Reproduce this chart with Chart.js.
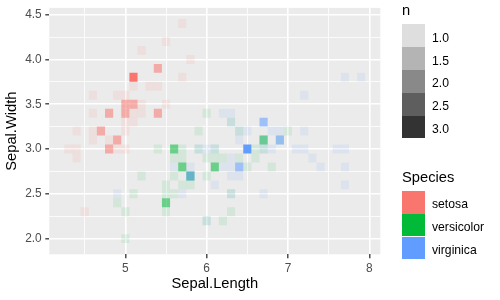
<!DOCTYPE html>
<html>
<head>
<meta charset="utf-8">
<script src="https://cdn.jsdelivr.net/npm/chart.js@4/dist/chart.umd.min.js"></script>
<style>
  html, body { margin: 0; padding: 0; background: #ffffff; }
  #wrap { position: relative; width: 500px; height: 300px; font-family: "Liberation Sans", Arial, sans-serif; }
  #plot { position: absolute; left: 0; top: 0; }
  .lg-title { position: absolute; left: 402px; font-size: 14.7px; line-height: 17px; color: #000; white-space: nowrap; }
  .lg-key { position: absolute; left: 402px; width: 22.5px; height: 22.9px; background: #F2F2F2; }
  .lg-key span { display: block; width: 100%; height: 100%; }
  .lg-label { position: absolute; left: 432px; font-size: 12.2px; line-height: 22.9px; color: #000; white-space: nowrap; }
</style>
</head>
<body>
<div id="wrap">
  <canvas id="plot" width="500" height="300"></canvas>
</div>
<script>
// counts of identical (Sepal.Length, Sepal.Width) pairs per species
var setosaX = [5.1, 4.9, 4.7, 4.6, 5.0, 5.4, 4.6, 5.0, 4.4, 4.9, 5.4, 4.8, 4.8, 4.3, 5.8, 5.7, 5.7, 5.1, 5.4, 5.1, 4.6, 5.1, 5.0, 5.2, 5.2, 4.8, 5.2, 5.5, 5.0, 5.5, 4.9, 4.4, 5.1, 5.0, 4.5, 4.4, 4.6, 5.3, 5.0];
var setosaY = [3.5, 3.0, 3.2, 3.1, 3.6, 3.9, 3.4, 3.4, 2.9, 3.1, 3.7, 3.4, 3.0, 3.0, 4.0, 4.4, 3.8, 3.8, 3.4, 3.7, 3.6, 3.3, 3.0, 3.5, 3.4, 3.1, 4.1, 4.2, 3.2, 3.5, 3.6, 3.0, 3.4, 3.5, 2.3, 3.2, 3.2, 3.7, 3.3];
var setosaN = [2, 1, 2, 1, 1, 2, 1, 2, 1, 2, 1, 2, 2, 1, 1, 1, 1, 3, 2, 1, 1, 1, 1, 1, 1, 1, 1, 1, 1, 1, 1, 1, 1, 2, 1, 1, 1, 1, 1];

var versicolorX = [7.0, 6.4, 6.9, 5.5, 6.5, 5.7, 6.3, 4.9, 6.6, 5.2, 5.0, 5.9, 6.0, 6.1, 5.6, 6.7, 5.6, 5.8, 6.2, 5.6, 5.9, 6.1, 6.3, 6.4, 6.6, 6.8, 6.7, 6.0, 5.7, 5.5, 6.0, 5.4, 6.0, 6.3, 5.5, 5.5, 6.1, 5.8, 5.0, 5.6, 5.7, 5.7, 6.2, 5.1];
var versicolorY = [3.2, 3.2, 3.1, 2.3, 2.8, 2.8, 3.3, 2.4, 2.9, 2.7, 2.0, 3.0, 2.2, 2.9, 2.9, 3.1, 3.0, 2.7, 2.2, 2.5, 3.2, 2.8, 2.5, 2.9, 3.0, 2.8, 3.0, 2.9, 2.6, 2.4, 2.7, 3.0, 3.4, 2.3, 2.5, 2.6, 3.0, 2.6, 2.3, 2.7, 3.0, 2.9, 2.9, 2.5];
var versicolorN = [1, 1, 1, 1, 1, 2, 1, 1, 1, 1, 1, 1, 1, 1, 1, 2, 2, 2, 1, 1, 1, 2, 1, 1, 1, 1, 1, 1, 1, 2, 1, 1, 1, 1, 1, 1, 1, 1, 1, 1, 1, 1, 1, 1];

var virginicaX = [6.3, 5.8, 7.1, 6.3, 6.5, 7.6, 4.9, 7.3, 6.7, 7.2, 6.5, 6.4, 6.8, 5.7, 5.8, 6.4, 7.7, 7.7, 6.0, 6.9, 5.6, 7.7, 6.3, 6.7, 7.2, 6.2, 6.1, 6.4, 7.2, 7.4, 7.9, 6.3, 6.1, 7.7, 6.3, 6.4, 6.0, 6.9, 6.7, 6.8, 6.7, 6.3, 6.2, 5.9];
var virginicaY = [3.3, 2.7, 3.0, 2.9, 3.0, 3.0, 2.5, 2.9, 2.5, 3.6, 3.2, 2.7, 3.0, 2.5, 2.8, 3.2, 3.8, 2.6, 2.2, 3.2, 2.8, 2.8, 2.7, 3.3, 3.2, 2.8, 3.0, 2.8, 3.0, 2.8, 3.8, 2.8, 2.6, 3.0, 3.4, 3.1, 3.0, 3.1, 3.1, 3.2, 3.0, 2.5, 3.4, 3.0];
var virginicaN = [1, 2, 1, 1, 3, 1, 1, 1, 1, 1, 1, 1, 1, 1, 1, 1, 1, 1, 1, 1, 1, 1, 1, 2, 1, 1, 1, 2, 1, 1, 1, 1, 1, 1, 1, 1, 1, 2, 1, 1, 1, 1, 1, 1];

var speciesNames = ['setosa', 'versicolor', 'virginica'];
var speciesRGB = [[248, 118, 109], [0, 186, 56], [97, 156, 255]];
var nLegendValues = [1.0, 1.5, 2.0, 2.5, 3.0];

var xMajor = [5, 6, 7, 8];
var xMinor = [4.5, 5.5, 6.5, 7.5];
var yMajor = [2.0, 2.5, 3.0, 3.5, 4.0, 4.5];
var yMinor = [2.25, 2.75, 3.25, 3.75, 4.25];

var TILE = 0.1;
var N_MIN = 1, N_MAX = 3;

function alphaFor(n) {
  return 0.1 + 0.9 * (n - N_MIN) / (N_MAX - N_MIN);
}

function tileData(xs, ys) {
  var out = [];
  for (var i = 0; i < xs.length; i++) {
    out.push({ x: xs[i], y: [ys[i] - TILE / 2, ys[i] + TILE / 2] });
  }
  return out;
}

function tileColors(rgb, ns) {
  return ns.map(function (n) {
    return 'rgba(' + rgb[0] + ',' + rgb[1] + ',' + rgb[2] + ',' + alphaFor(n).toFixed(3) + ')';
  });
}

var seriesX = [setosaX, versicolorX, virginicaX];
var seriesY = [setosaY, versicolorY, virginicaY];
var seriesN = [setosaN, versicolorN, virginicaN];

var datasets = speciesNames.map(function (name, i) {
  return {
    label: name,
    data: tileData(seriesX[i], seriesY[i]),
    backgroundColor: tileColors(speciesRGB[i], seriesN[i]),
    borderWidth: 0,
    grouped: false,
    barPercentage: 1,
    categoryPercentage: 1,
    inflateAmount: 0,
    order: speciesNames.length - 1 - i   // later species painted on top
  };
});

var panelBackground = {
  id: 'panelBackground',
  beforeDraw: function (chart) {
    var a = chart.chartArea, ctx = chart.ctx;
    ctx.save();
    ctx.fillStyle = '#EBEBEB';
    ctx.fillRect(a.left, a.top, a.right - a.left, a.bottom - a.top);
    ctx.restore();
  }
};

var FONT = '"Liberation Sans", Arial, sans-serif';

function isIn(list, v) {
  for (var i = 0; i < list.length; i++) if (Math.abs(list[i] - v) < 1e-9) return true;
  return false;
}

function gridFor(major) {
  return {
    color: '#FFFFFF',
    lineWidth: function (c) { return c.tick && isIn(major, c.tick.value) ? 1.6 : 0.8; },
    tickColor: function (c) { return c.tick && isIn(major, c.tick.value) ? '#333333' : 'rgba(0,0,0,0)'; },
    tickLength: 4,
    tickWidth: 1.3,
    drawTicks: true,
    offset: false
  };
}

new Chart(document.getElementById('plot'), {
  type: 'bar',
  data: { datasets: datasets },
  plugins: [panelBackground],
  options: {
    responsive: false,
    devicePixelRatio: 1,
    animation: false,
    events: [],
    layout: { padding: { left: 0, right: 119.7, top: 7.9, bottom: 0 } },
    plugins: { legend: { display: false }, tooltip: { enabled: false } },
    scales: {
      x: {
        type: 'linear',
        min: 4.065,
        max: 8.135,
        offset: false,
        grid: gridFor(xMajor),
        border: { display: false },
        afterBuildTicks: function (s) {
          s.ticks = xMinor.concat(xMajor).sort(function (a, b) { return a - b; }).map(function (v) { return { value: v }; });
        },
        afterFit: function (s) { s.height = 45.7; s.paddingLeft = 0; s.paddingRight = 0; },
        ticks: {
          autoSkip: false,
          maxRotation: 0,
          padding: 3.2,
          color: '#4D4D4D',
          font: { family: FONT, size: 11.9 },
          callback: function (v) { return isIn(xMajor, v) ? String(v) : ''; }
        },
        title: {
          display: true,
          text: 'Sepal.Length',
          color: '#000000',
          font: { family: FONT, size: 14.7 },
          padding: { top: 0, bottom: 7 }
        }
      },
      y: {
        type: 'linear',
        min: 1.825,
        max: 4.575,
        grid: gridFor(yMajor),
        border: { display: false },
        afterBuildTicks: function (s) {
          s.ticks = yMinor.concat(yMajor).sort(function (a, b) { return a - b; }).map(function (v) { return { value: v }; });
        },
        afterFit: function (s) { s.width = 49.3; s.paddingTop = 0; s.paddingBottom = 0; },
        ticks: {
          autoSkip: false,
          padding: 3.6,
          color: '#4D4D4D',
          font: { family: FONT, size: 11.9 },
          callback: function (v) { return isIn(yMajor, v) ? v.toFixed(1) : ''; }
        },
        title: {
          display: true,
          text: 'Sepal.Width',
          color: '#000000',
          font: { family: FONT, size: 14.7 },
          padding: { top: 3.6, bottom: 0 }
        }
      }
    }
  }
});

// ggplot-style legends: alpha (n) and fill (Species)
(function buildLegend() {
  var wrap = document.getElementById('wrap');
  var KEY_H = 22.9;

  function add(cls, top, html) {
    var d = document.createElement('div');
    d.className = cls;
    d.style.top = top + 'px';
    d.innerHTML = html;
    wrap.appendChild(d);
    return d;
  }

  add('lg-title', 2.0, 'n');
  nLegendValues.forEach(function (v, i) {
    var top = 24 + i * KEY_H;
    add('lg-key', top, '<span style="background:rgba(51,51,51,' + alphaFor(v).toFixed(3) + ')"></span>');
    add('lg-label', top + 2.6, v.toFixed(1));
  });

  add('lg-title', 169.2, 'Species');
  speciesNames.forEach(function (name, i) {
    var top = 190.7 + i * KEY_H;
    var c = speciesRGB[i];
    add('lg-key', top, '<span style="background:rgb(' + c.join(',') + ')"></span>');
    add('lg-label', top + 2.6, name);
  });
})();
</script>
</body>
</html>
